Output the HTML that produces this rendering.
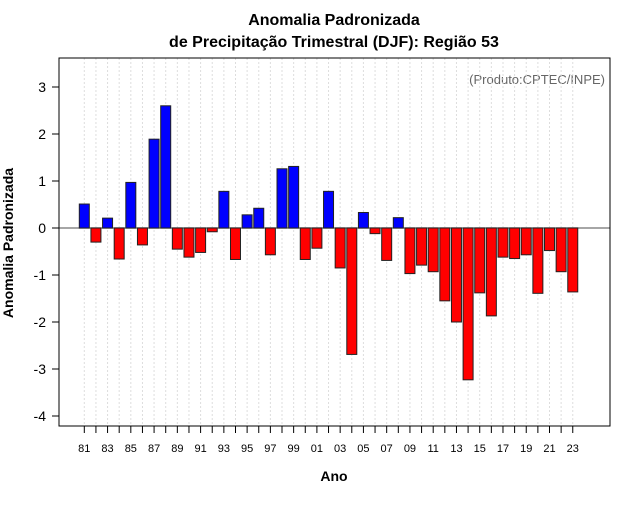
<!DOCTYPE html>
<html><head><meta charset="utf-8"><style>
body{margin:0;background:#fff}
svg text{font-family:"Liberation Sans",sans-serif}
</style></head><body>
<svg id="chart" width="640" height="500" xmlns="http://www.w3.org/2000/svg">
<text x="334" y="25" text-anchor="middle" font-size="16" font-weight="bold">Anomalia Padronizada</text>
<text x="334" y="47" text-anchor="middle" font-size="16" font-weight="bold">de Precipitação Trimestral (DJF): Região 53</text>
<text x="605" y="84" text-anchor="end" font-size="13" fill="#666">(Produto:CPTEC/INPE)</text>
<text x="334" y="481" text-anchor="middle" font-size="14" font-weight="bold">Ano</text>
<text transform="translate(13,243) rotate(-90)" text-anchor="middle" font-size="14" font-weight="bold">Anomalia Padronizada</text>
<g id="grid"></g><g id="bars"></g><g id="axes"></g>
<rect x="59" y="58" width="551" height="368" fill="none" stroke="#000"/>
</svg>
<script>
const years = [81,82,83,84,85,86,87,88,89,90,91,92,93,94,95,96,97,98,99,0,1,2,3,4,5,6,7,8,9,10,11,12,13,14,15,16,17,18,19,20,21,22,23];
const values = [0.51,-0.30,0.21,-0.66,0.97,-0.36,1.89,2.60,-0.45,-0.62,-0.52,-0.08,0.78,-0.67,0.28,0.42,-0.57,1.26,1.31,-0.67,-0.43,0.78,-0.85,-2.69,0.33,-0.12,-0.69,0.22,-0.97,-0.79,-0.93,-1.55,-2.00,-3.23,-1.38,-1.87,-0.62,-0.65,-0.57,-1.39,-0.48,-0.93,-1.36];
const yTicks = [-4,-3,-2,-1,0,1,2,3];
const NS="http://www.w3.org/2000/svg";
const xs = i => 84.3 + i*11.63;
const ys = v => 228 - v*47;
function mk(tag, attrs, parent){const e=document.createElementNS(NS,tag);for(const k in attrs)e.setAttribute(k,attrs[k]);parent.appendChild(e);return e;}
const grid=document.getElementById('grid'), bars=document.getElementById('bars'), axes=document.getElementById('axes');
years.forEach((y,i)=>{
  const g=mk('line',{x1:xs(i),x2:xs(i),y1:58,y2:426,stroke:'#ddd','stroke-dasharray':'2,2'},grid);
  
  
  const t=mk('line',{x1:xs(i),x2:xs(i),y1:426,y2:433,stroke:'#000'},axes);
  
  
  if(i%2===0){
    const l=mk('text',{x:xs(i),y:452,'text-anchor':'middle','font-size':'11'},axes);
    l.textContent=String(y).padStart(2,'0');
    
    
  }
});
const z=mk('line',{x1:59,x2:610,y1:ys(0),y2:ys(0),stroke:'#888','stroke-width':1.5},grid);


values.forEach((v,i)=>{
  const top=Math.min(ys(v),ys(0)), h=Math.abs(ys(v)-ys(0));
  const r=mk('rect',{x:xs(i)-5,y:top,width:10,height:h,fill:v>=0?'#0000ff':'#ff0000',stroke:'#222','stroke-width':1},bars);
  
  
});
yTicks.forEach(v=>{
  const t=mk('line',{x1:52,x2:59,y1:ys(v),y2:ys(v),stroke:'#000'},axes);
  
  
  const l=mk('text',{x:46,y:ys(v)+5,'text-anchor':'end','font-size':'14'},axes);
  l.textContent=v;
  
  
});
</script>
</body></html>
